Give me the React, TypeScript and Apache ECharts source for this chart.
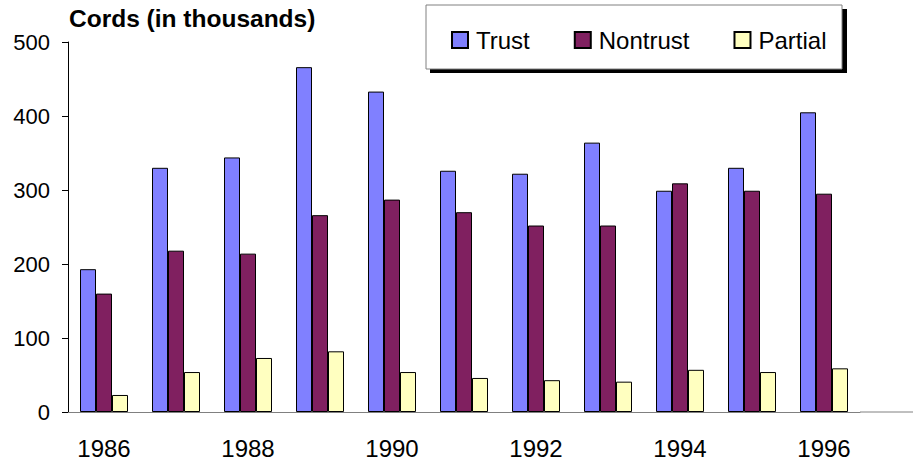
import React, { useEffect, useRef } from "react";
import * as echarts from "echarts";

const years = ["1986", "1987", "1988", "1989", "1990", "1991", "1992", "1993", "1994", "1995", "1996"];
const trust = [193, 330, 344, 466, 433, 326, 322, 364, 299, 330, 405];
const nontrust = [160, 218, 214, 266, 287, 270, 252, 252, 309, 299, 295];
const partial = [23, 54, 73, 82, 54, 46, 43, 41, 57, 54, 59];
const seriesNames = ["Trust", "Nontrust", "Partial"];
const colors = ["#8080FF", "#802060", "#FFFFC0"];
const titleText = "Cords (in thousands)";

const FONT = "'Liberation Sans', Arial, sans-serif";

export default function App() {
  const ref = useRef<HTMLDivElement>(null);
  useEffect(() => {
    if (!ref.current) return;
    const chart = echarts.init(ref.current, null, { renderer: "svg" });
    const data = [trust, nontrust, partial];
    chart.setOption({
      animation: false,
      backgroundColor: "#ffffff",
      textStyle: { fontFamily: FONT },
      grid: { left: 68, right: 59, top: 42, bottom: 48, containLabel: false },
      legend: {
        left: 451,
        top: 28,
        padding: 0,
        itemWidth: 16,
        itemHeight: 16,
        itemGap: 44,
        icon: "rect",
        data: seriesNames,
        textStyle: { fontSize: 24, color: "#000", fontFamily: FONT, padding: [0, 0, 0, 3] },
      },
      graphic: [
        { type: "rect", shape: { x: 430, y: 9, width: 417, height: 64 }, style: { fill: "#000" }, z: 1 },
        { type: "rect", shape: { x: 426, y: 5, width: 416, height: 64 }, style: { fill: "#fff", stroke: "#808080", lineWidth: 1 }, z: 2 },
        { type: "line", shape: { x1: 860, y1: 412, x2: 913, y2: 412 }, style: { stroke: "#808080", lineWidth: 1 }, z: 2 },
        {
          type: "text",
          x: 69,
          y: 18.5,
          style: { text: titleText, font: `bold 24.5px ${FONT}`, fill: "#000", textVerticalAlign: "middle", verticalAlign: "middle" },
          z: 3,
        },
      ],
      xAxis: {
        type: "category",
        data: years,
        boundaryGap: true,
        axisLine: { show: true, lineStyle: { color: "#808080", width: 1 } },
        axisTick: { show: false },
        axisLabel: { interval: 1, fontSize: 24, color: "#000", margin: 24, fontFamily: FONT },
        splitLine: { show: false },
      },
      yAxis: {
        type: "value",
        min: 0,
        max: 500,
        interval: 100,
        axisLine: { show: true, lineStyle: { color: "#000", width: 1 } },
        axisTick: { show: true, length: 6, lineStyle: { color: "#000" } },
        axisLabel: { fontSize: 22, color: "#000", margin: 18, fontFamily: FONT },
        splitLine: { show: false },
      },
      series: seriesNames.map((name, i) => ({
        name,
        type: "bar",
        data: data[i],
        barWidth: 16,
        barGap: "0%",
        itemStyle: { color: colors[i], borderColor: "#000", borderWidth: 1 },
      })),
    });
    return () => chart.dispose();
  }, []);
  return <div ref={ref} style={{ width: 919, height: 460, position: "absolute", left: 0, top: 0 }} />;
}
